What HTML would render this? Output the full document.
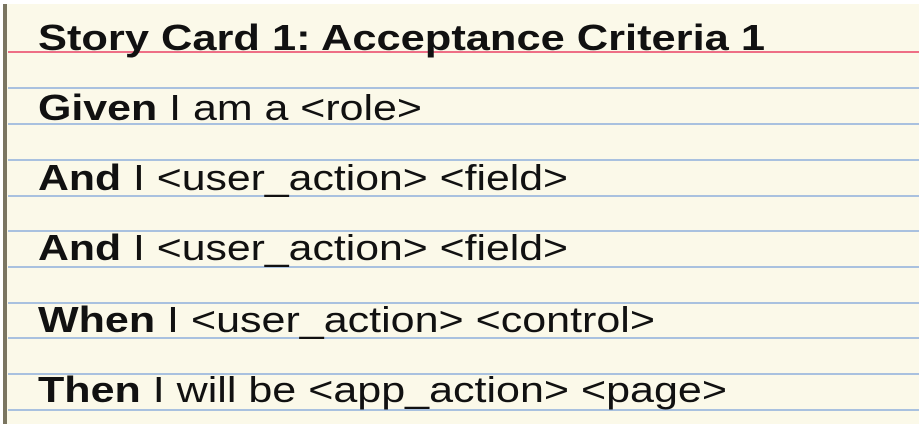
<!DOCTYPE html>
<html><head><meta charset="utf-8"><style>
html,body{margin:0;padding:0;background:#fff;}
svg{display:block}
text{font-family:"Liberation Sans","DejaVu Sans",sans-serif;fill:#111;}
.b{font-weight:bold}
</style></head><body>
<svg width="922" height="430" viewBox="0 0 922 430">
<rect x="0" y="0" width="922" height="430" fill="#fff"/>
<rect x="3" y="4" width="916" height="420" fill="#fbf9e9"/>
<rect x="3" y="4" width="4" height="420" fill="#7a7560"/>
<line x1="8" y1="52" x2="919" y2="52" stroke="#ee6f86" stroke-width="2"/>
<g stroke="#a9c1df" stroke-width="2">
<line x1="8" y1="88" x2="919" y2="88"/>
<line x1="8" y1="124" x2="919" y2="124"/>
<line x1="8" y1="160" x2="919" y2="160"/>
<line x1="8" y1="196" x2="919" y2="196"/>
<line x1="8" y1="231" x2="919" y2="231"/>
<line x1="8" y1="267" x2="919" y2="267"/>
<line x1="8" y1="303" x2="919" y2="303"/>
<line x1="8" y1="338" x2="919" y2="338"/>
<line x1="8" y1="374" x2="919" y2="374"/>
<line x1="8" y1="410" x2="919" y2="410"/>
</g>
<text class="b" x="38" y="50" font-size="36" textLength="727" lengthAdjust="spacingAndGlyphs">Story Card 1: Acceptance Criteria 1</text>
<text x="38" y="120" font-size="36" textLength="384" lengthAdjust="spacingAndGlyphs"><tspan class="b">Given</tspan> I am a &lt;role&gt;</text>
<text x="38" y="190" font-size="36" textLength="530" lengthAdjust="spacingAndGlyphs"><tspan class="b">And</tspan> I &lt;user_action&gt; &lt;field&gt;</text>
<text x="38" y="260" font-size="36" textLength="530" lengthAdjust="spacingAndGlyphs"><tspan class="b">And</tspan> I &lt;user_action&gt; &lt;field&gt;</text>
<text x="38" y="332" font-size="36" textLength="617" lengthAdjust="spacingAndGlyphs"><tspan class="b">When</tspan> I &lt;user_action&gt; &lt;control&gt;</text>
<text x="38" y="402" font-size="36" textLength="689" lengthAdjust="spacingAndGlyphs"><tspan class="b">Then</tspan> I will be &lt;app_action&gt; &lt;page&gt;</text>
</svg>
</body></html>
